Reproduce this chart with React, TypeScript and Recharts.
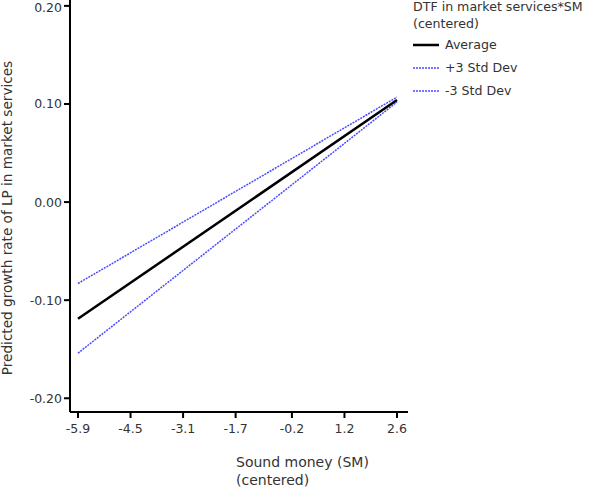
import React from 'react'
import { LineChart, Line, XAxis, YAxis, Label } from 'recharts'

const xValues = [-5.9, 2.6]
const average = [-0.119, 0.104]
const plus3 = [-0.083, 0.107]
const minus3 = [-0.154, 0.102]
const xTicks = [-5.9, -4.5, -3.1, -1.7, -0.2, 1.2, 2.6]
const yTicks = [-0.2, -0.1, 0, 0.1, 0.2]

const FONT = '"DejaVu Sans", Verdana, sans-serif'
const TEXT = '#333'
const BLUE = '#4a4aff'

const legendItems = [
  { name: 'Average', color: '#000', dash: undefined as string | undefined, width: 2.5 },
  { name: '+3 Std Dev', color: BLUE, dash: '2 1', width: 1.5 },
  { name: '-3 Std Dev', color: BLUE, dash: '2 1', width: 1.5 },
]

function LegendBox() {
  return (
    <div style={{ position: 'absolute', left: 413, top: -2, fontFamily: FONT, fontSize: 12.6, color: TEXT, lineHeight: '17px' }}>
      <div>DTF in market services*SM</div>
      <div>(centered)</div>
      {legendItems.map((it, i) => (
        <div key={it.name} style={{ display: 'flex', alignItems: 'center', marginTop: i === 0 ? 4 : 6 }}>
          <svg width={28} height={10} style={{ marginRight: 4 }}>
            <line x1={0} x2={26} y1={5} y2={5} stroke={it.color} strokeWidth={it.width} strokeDasharray={it.dash} />
          </svg>
          <span>{it.name}</span>
        </div>
      ))}
    </div>
  )
}

export default function App() {
  const data = xValues.map((x, i) => ({ x, average: average[i], plus3: plus3[i], minus3: minus3[i] }))
  return (
    <div style={{ position: 'absolute', left: 0, top: 0, width: 614, height: 495 }}>
      <LineChart width={614} height={495} data={data} margin={{ top: 0, right: 206, bottom: 0, left: 0 }}>
        <XAxis
          dataKey="x"
          type="number"
          domain={[-6.113, 2.893]}
          ticks={xTicks}
          allowDataOverflow
          tickFormatter={(v: number) => v.toFixed(1)}
          height={83}
          stroke="#000"
          strokeWidth={2}
          tickSize={6}
          tick={{ fill: TEXT, fontSize: 12.5, fontFamily: FONT, dy: 4 }}
        >
          <Label
            content={() => (
              <text x={236} y={467} fill={TEXT} fontSize={14} fontFamily={FONT}>
                <tspan x={236}>Sound money (SM)</tspan>
                <tspan x={236} dy={18}>(centered)</tspan>
              </text>
            )}
          />
        </XAxis>
        <YAxis
          type="number"
          domain={[-0.214, 0.206]}
          ticks={yTicks}
          allowDataOverflow
          tickFormatter={(v: number) => v.toFixed(2)}
          width={70}
          stroke="#000"
          strokeWidth={2}
          tickSize={6}
          tick={{ fill: TEXT, fontSize: 12.5, fontFamily: FONT }}
        >
          <Label
            content={() => (
              <text
                x={12}
                y={218}
                fill={TEXT}
                fontSize={13.6}
                fontFamily={FONT}
                textAnchor="middle"
                transform="rotate(-90 12 218)"
              >
                Predicted growth rate of LP in market services
              </text>
            )}
          />
        </YAxis>
        <Line dataKey="plus3" name="+3 Std Dev" stroke={BLUE} strokeWidth={1.5} strokeDasharray="2 1" dot={false} isAnimationActive={false} />
        <Line dataKey="minus3" name="-3 Std Dev" stroke={BLUE} strokeWidth={1.5} strokeDasharray="2 1" dot={false} isAnimationActive={false} />
        <Line dataKey="average" name="Average" stroke="#000" strokeWidth={2.5} dot={false} isAnimationActive={false} />
      </LineChart>
      <LegendBox />
    </div>
  )
}
